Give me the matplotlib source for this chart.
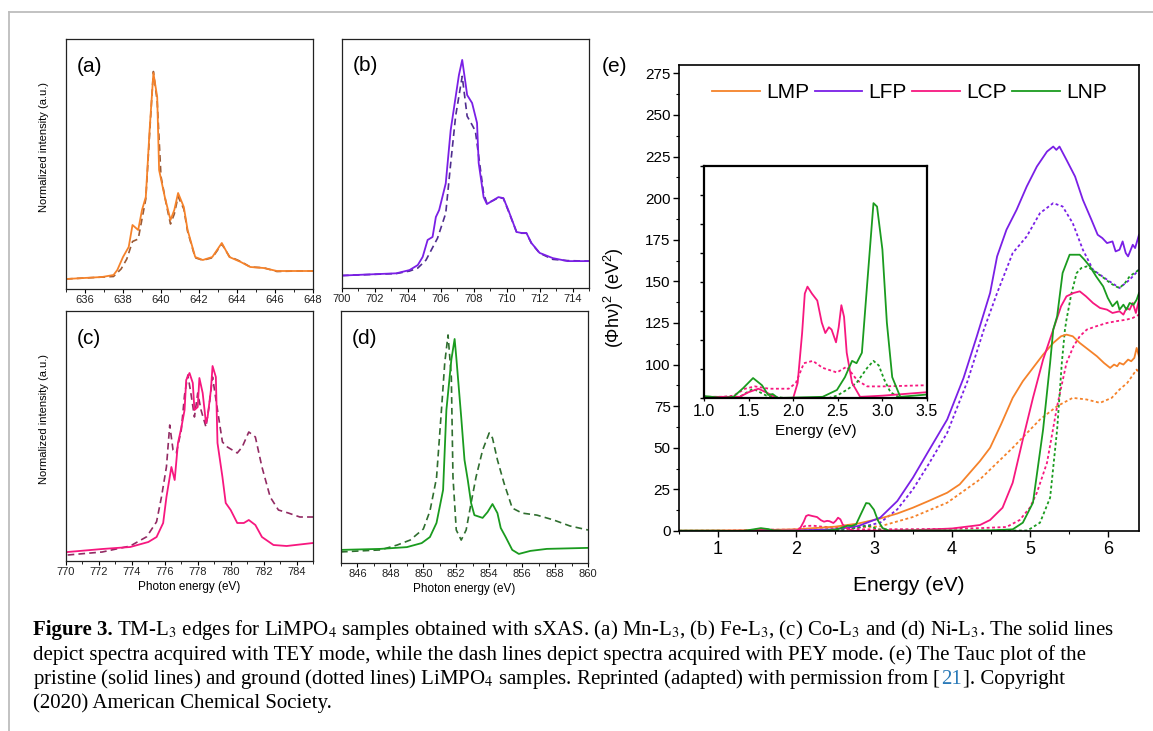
import matplotlib
matplotlib.use("Agg")
import matplotlib.pyplot as plt
from matplotlib.lines import Line2D
from matplotlib.ticker import MultipleLocator

plt.rcParams['font.family'] = ['Liberation Sans', 'DejaVu Sans']
plt.rcParams['mathtext.fontset'] = 'custom'
plt.rcParams['mathtext.rm'] = 'Liberation Sans'
plt.rcParams['mathtext.it'] = 'Liberation Sans:italic'

W, H = 1153, 731

# ---- (a)-(d): sXAS L3 edges, TEY (solid) and PEY (dashed), normalized ----
mn_tey_x = [635.0, 636.9, 637.5, 637.7, 638.0, 638.3, 638.5, 638.8, 639.0, 639.2, 639.4, 639.6, 639.8,
            639.9, 640.2, 640.5, 640.7, 640.9, 641.2, 641.4, 641.8, 642.2, 642.7, 643.2, 643.6, 644.2,
            644.7, 645.4, 646.1, 647.2, 648.0]
mn_tey_y = [0.04, 0.048, 0.056, 0.076, 0.128, 0.168, 0.256, 0.236, 0.316, 0.368, 0.636, 0.864, 0.768,
            0.476, 0.368, 0.276, 0.316, 0.384, 0.328, 0.236, 0.128, 0.116, 0.128, 0.184, 0.128, 0.108,
            0.088, 0.084, 0.072, 0.072, 0.072]
mn_pey_x = [635.0, 637.5, 637.9, 638.2, 638.5, 638.8, 639.0, 639.2, 639.4, 639.6, 639.8, 640.0, 640.3,
            640.5, 640.7, 640.9, 641.2, 641.4, 641.8, 642.2, 642.7, 643.2, 643.6, 644.2, 644.7, 645.4,
            646.1, 647.2, 648.0]
mn_pey_y = [0.04, 0.05, 0.08, 0.12, 0.19, 0.2, 0.28, 0.36, 0.62, 0.87, 0.75, 0.45, 0.33,
            0.26, 0.30, 0.37, 0.32, 0.23, 0.125, 0.115, 0.125, 0.18, 0.13, 0.11, 0.088, 0.085,
            0.07, 0.072, 0.072]

fe_tey_x = [700.0, 703.3, 704.1, 704.6, 704.9, 705.2, 705.5, 705.7, 705.9, 706.3, 706.6, 706.9, 707.1,
            707.3, 707.5, 707.6, 707.9, 708.2, 708.3, 708.6, 708.8, 709.2, 709.5, 709.8, 710.1, 710.6,
            710.9, 711.2, 711.5, 712.0, 712.8, 713.7, 715.0]
fe_tey_y = [0.05, 0.059, 0.072, 0.092, 0.125, 0.193, 0.205, 0.285, 0.313, 0.42, 0.634, 0.767, 0.855,
            0.916, 0.823, 0.775, 0.743, 0.663, 0.502, 0.365, 0.337, 0.353, 0.365, 0.361, 0.313, 0.225,
            0.221, 0.221, 0.181, 0.141, 0.12, 0.108, 0.108]
fe_pey_x = [700.0, 703.3, 704.1, 704.6, 705.1, 705.8, 706.3, 706.6, 706.9, 707.3, 707.6, 707.9, 708.1,
            708.3, 708.6, 708.8, 709.2, 709.5, 709.8, 710.1, 710.6, 710.9, 711.2, 711.5, 712.0, 712.8,
            713.7, 715.0]
fe_pey_y = [0.05, 0.058, 0.068, 0.08, 0.112, 0.2, 0.3, 0.5, 0.69, 0.85, 0.69, 0.655, 0.63,
            0.53, 0.38, 0.34, 0.352, 0.363, 0.36, 0.31, 0.225, 0.22, 0.22, 0.18, 0.14, 0.115,
            0.11, 0.108]

co_tey_x = [770.1, 772.2, 773.9, 775.0, 775.5, 775.9, 776.1, 776.4, 776.6, 776.8, 777.0, 777.2, 777.3,
            777.5, 777.7, 777.8, 778.0, 778.1, 778.3, 778.5, 778.6, 778.8, 778.9, 779.1, 779.2, 779.5,
            779.7, 780.0, 780.4, 780.8, 781.1, 781.5, 781.9, 782.6, 783.4, 785.0]
co_tey_y = [0.036, 0.048, 0.056, 0.076, 0.096, 0.152, 0.256, 0.376, 0.324, 0.472, 0.532, 0.604, 0.724,
            0.752, 0.712, 0.604, 0.616, 0.732, 0.672, 0.552, 0.576, 0.684, 0.78, 0.736, 0.472, 0.336,
            0.232, 0.204, 0.152, 0.152, 0.164, 0.144, 0.096, 0.064, 0.06, 0.072]
co_pey_x = [770.1, 772.2, 773.9, 774.9, 775.5, 775.8, 776.1, 776.3, 776.5, 776.7, 777.0, 777.2, 777.4,
            777.6, 777.8, 778.0, 778.2, 778.5, 778.7, 778.9, 779.2, 779.5, 779.8, 780.4, 780.7, 781.1,
            781.5, 781.9, 782.4, 782.9, 783.5, 784.2, 785.0]
co_pey_y = [0.024, 0.036, 0.06, 0.097, 0.157, 0.257, 0.377, 0.544, 0.444, 0.432, 0.524, 0.664, 0.744,
            0.664, 0.576, 0.672, 0.604, 0.536, 0.624, 0.736, 0.604, 0.476, 0.456, 0.432, 0.456, 0.516,
            0.496, 0.376, 0.256, 0.204, 0.192, 0.176, 0.176]

ni_tey_x = [845.0, 847.4, 849.0, 849.9, 850.4, 850.8, 851.2, 851.4, 851.7, 851.9, 852.0, 852.3, 852.5,
            852.7, 852.9, 853.1, 853.6, 853.9, 854.2, 854.5, 854.7, 855.0, 855.4, 855.8, 856.5, 857.5,
            860.0]
ni_tey_y = [0.052, 0.056, 0.063, 0.079, 0.103, 0.159, 0.29, 0.607, 0.806, 0.889, 0.817, 0.579, 0.409,
            0.329, 0.238, 0.19, 0.179, 0.202, 0.234, 0.198, 0.139, 0.103, 0.052, 0.036, 0.048, 0.056,
            0.06]
ni_pey_x = [845.0, 847.4, 848.4, 849.2, 850.0, 850.4, 850.8, 851.1, 851.3, 851.5, 851.7, 851.8, 852.0,
            852.3, 852.6, 852.9, 853.2, 853.6, 854.0, 854.2, 854.5, 854.9, 855.4, 856.0, 856.9, 857.9,
            858.9, 860.0]
ni_pey_y = [0.044, 0.052, 0.071, 0.091, 0.135, 0.206, 0.337, 0.607, 0.794, 0.905, 0.738, 0.341, 0.131,
            0.091, 0.131, 0.238, 0.341, 0.448, 0.516, 0.496, 0.409, 0.317, 0.218, 0.198, 0.19, 0.171,
            0.147, 0.131]

# ---- (e): Tauc plot, pristine (solid) and ground (dotted) ----
lmp_x = [0.5, 1.0, 1.5, 2.0, 2.5, 2.8, 3.08, 3.3, 3.5, 3.7, 3.94, 4.1, 4.23, 4.36, 4.49, 4.63, 4.78, 4.91,
         5.04, 5.17, 5.3, 5.4, 5.47, 5.55, 5.64, 5.75, 5.86, 5.95, 6.03, 6.08, 6.12, 6.15, 6.2, 6.26, 6.3,
         6.34, 6.37, 6.4]
lmp_y = [0.2, 0.3, 0.5, 1.0, 2.6, 4.5, 7.5, 10.5, 14, 18, 23, 28, 35, 42, 50, 64, 80, 90,
         98, 106, 113, 117, 118, 117, 113, 109, 105, 101, 98, 100, 99, 101, 100, 103, 102,
         104, 110, 105]
lmp_g_x = [0.5, 1.5, 2.0, 2.5, 3.08, 3.5, 3.94, 4.36, 4.78, 5.13, 5.35, 5.55, 5.73, 5.9, 6.05, 6.15,
           6.25, 6.37, 6.4]
lmp_g_y = [0.1, 0.3, 0.6, 1.3, 2.8, 8.4, 17, 31, 50, 67, 75, 80, 79, 77, 80, 85, 89, 97, 95]

lfp_x = [0.5, 1.5, 2.0, 2.5, 2.8, 3.08, 3.3, 3.5, 3.7, 3.94, 4.15, 4.32, 4.49, 4.58, 4.7, 4.83, 4.96,
         5.09, 5.22, 5.3, 5.34, 5.38, 5.47, 5.58, 5.68, 5.79, 5.87, 5.93, 5.99, 6.06, 6.1, 6.15, 6.19,
         6.23, 6.26, 6.32, 6.35, 6.4]
lfp_y = [0, 0.1, 0.3, 1.0, 3.0, 8, 18, 32, 48, 67, 92, 117, 143, 165, 181, 193, 207,
         219, 228, 231, 229, 231, 223, 213, 199, 187, 178, 176, 173, 174, 168, 169, 174,
         167, 165, 172, 170, 178]
lfp_g_x = [0.5, 2.0, 2.5, 2.8, 3.08, 3.3, 3.5, 3.7, 3.94, 4.2, 4.41, 4.58, 4.78, 4.96, 5.13, 5.3, 5.42,
           5.55, 5.68, 5.81, 5.99, 6.15, 6.28, 6.4]
lfp_g_y = [0, 0.2, 0.6, 2, 5, 13, 25, 40, 59, 90, 121, 143, 167, 177, 191, 197, 195,
           185, 169, 157, 151, 146, 151, 157]

lcp_x = [0.5, 1.0, 1.4, 1.5, 1.61, 1.72, 1.81, 2.0, 2.05, 2.1, 2.13, 2.16, 2.21, 2.27, 2.32, 2.36, 2.4,
         2.43, 2.48, 2.51, 2.54, 2.57, 2.6, 2.66, 2.75, 3.0, 3.5, 4.0, 4.36, 4.49, 4.65, 4.78, 4.91, 5.04,
         5.17, 5.3, 5.4, 5.47, 5.56, 5.64, 5.72, 5.81, 5.9, 5.99, 6.06, 6.15, 6.2, 6.24, 6.28, 6.32, 6.36,
         6.4]
lcp_y = [0.1, 0.1, 0.1, 0.5, 0.8, 0.4, 0, 0, 1.3, 5.6, 9.0, 9.6, 9.0, 8.4, 6.5, 5.6, 6.1,
         5.9, 4.8, 6.1, 8.0, 7.0, 3.9, 1.3, 0.1, 0.2, 0.5, 1.5, 3.6, 6.6, 14, 29, 55, 80,
         103, 121, 135, 141, 143, 144, 141, 137, 134, 133, 131, 132, 130, 134, 133, 137, 131,
         139]
lcp_g_x = [0.5, 1.0, 1.1, 1.33, 1.46, 1.57, 1.73, 1.95, 2.03, 2.12, 2.22, 2.33, 2.49, 2.6, 2.72, 2.83,
           3.0, 3.5, 4.0, 4.4, 4.7, 4.87, 5.0, 5.09, 5.22, 5.35, 5.47, 5.56, 5.64, 5.73, 5.85, 5.99, 6.1,
           6.24, 6.32, 6.4]
lcp_g_y = [0.1, 0.1, 0, 0.2, 0.8, 1.0, 0.8, 0.8, 1.3, 3.0, 3.2, 2.6, 2.2, 2.7, 1.5, 1.0,
           1.0, 1.1, 1.3, 1.8, 2.4, 6.6, 14, 23, 41, 75, 101, 111, 117, 121, 123, 125, 126,
           127, 128, 130]

lnp_x = [0.5, 1.0, 1.21, 1.33, 1.44, 1.55, 1.65, 1.72, 1.77, 1.83, 2.33, 2.49, 2.58, 2.66, 2.71, 2.77,
         2.83, 2.9, 2.94, 3.0, 3.05, 3.11, 3.2, 3.5, 4.0, 4.5, 4.78, 4.91, 5.04, 5.17, 5.26, 5.3, 5.35,
         5.42, 5.51, 5.58, 5.64, 5.7, 5.77, 5.85, 5.94, 6.0, 6.06, 6.12, 6.15, 6.2, 6.24, 6.28, 6.33,
         6.37, 6.4]
lnp_y = [0.2, 0.17, 0, 0.1, 0.86, 1.72, 1.1, 0.26, 0.34, 0, 0.1, 0.69, 1.8, 3.2, 3.0, 3.9,
         9.9, 16.8, 16.5, 12.8, 6.5, 1.8, 0.1, 0.3, 0.3, 0.4, 1, 5, 17, 61, 101, 121, 129,
         155, 166, 166, 166, 163, 159, 153, 147, 140, 135, 138, 133, 136, 133, 137, 136,
         139, 143]
lnp_g_x = [0.5, 1.0, 1.4, 1.55, 1.7, 1.9, 2.4, 2.49, 2.6, 2.71, 2.83, 2.9, 2.96, 3.02, 3.09, 3.2, 3.5,
           4.0, 4.5, 4.97, 5.13, 5.26, 5.35, 5.41, 5.45, 5.47, 5.53, 5.6, 5.66, 5.73, 5.8, 5.86, 5.95,
           6.03, 6.1, 6.15, 6.22, 6.28, 6.34, 6.4]
lnp_g_y = [0.1, 0.1, 0.1, 0.8, 0.2, 0, 0, 0.2, 0.7, 1.3, 2.6, 3.2, 2.8, 1.6, 0.5, 0, 0,
           0.1, 0.2, 0.3, 5, 20, 61, 101, 121, 127, 142, 155, 158, 159, 157, 155, 152,
           149, 147, 146, 149, 153, 155, 157]

c_mn, c_fe, c_co, c_ni = '#f5822a', '#7a1fe6', '#f7177f', '#1a9b1f'
dash_cols = ['#9a5a35', '#4f2d8f', '#922a63', '#2f6e2f']


def rect(x0, y0, x1, y1):
    return [x0 / W, 1 - y1 / H, (x1 - x0) / W, (y1 - y0) / H]


fig = plt.figure(figsize=(W / 100, H / 100), dpi=100)

# light gray frame of the page
fig.add_artist(Line2D([9 / W, 9 / W], [0, 1 - 12 / H], transform=fig.transFigure, color='#bdbdbd', lw=1.3))
fig.add_artist(Line2D([9 / W, 1], [1 - 12 / H, 1 - 12 / H], transform=fig.transFigure, color='#bdbdbd', lw=1.3))

panels = [
    ((66, 39, 313, 289), (635, 648), mn_tey_x, mn_tey_y, mn_pey_x, mn_pey_y, c_mn, '(a)', (636, 648)),
    ((342, 39, 589, 288), (700, 715), fe_tey_x, fe_tey_y, fe_pey_x, fe_pey_y, c_fe, '(b)', (700, 714)),
    ((66, 311, 313, 561), (770, 785), co_tey_x, co_tey_y, co_pey_x, co_pey_y, c_co, '(c)', (770, 784)),
    ((341, 311, 588, 563), (845, 860), ni_tey_x, ni_tey_y, ni_pey_x, ni_pey_y, c_ni, '(d)', (846, 860)),
]
for i, (box, xl, tx, ty, px, py, col, lab, tk) in enumerate(panels):
    ax = fig.add_axes(rect(*box))
    ax.plot(px, py, color=dash_cols[i], lw=1.2, ls=(0, (4, 2.5)))
    ax.plot(tx, ty, color=col, lw=1.3)
    ax.set_xlim(*xl)
    ax.set_ylim(0, 1)
    ax.set_yticks([])
    ax.set_xticks(range(tk[0], tk[1] + 1, 2))
    ax.xaxis.set_minor_locator(MultipleLocator(1))
    ax.tick_params(axis='x', which='major', direction='out', length=3, width=0.8, labelsize=8,
                   pad=1.5, labelcolor='#222222')
    ax.tick_params(axis='x', which='minor', direction='out', length=2, width=0.6)
    for s in ax.spines.values():
        s.set_linewidth(0.9)
        s.set_color('#222222')
    ax.text(0.045, 0.93, lab, transform=ax.transAxes, fontsize=15, va='top', ha='left')
    if i in (0, 2):
        ax.set_ylabel('Normalized intensity (a.u.)', fontsize=8)
        ax.yaxis.set_label_coords(-0.07, 0.57)
    if i in (2, 3):
        ax.set_xlabel('Photon energy (eV)', fontsize=8.5, labelpad=3)

# ---- main Tauc panel ----
axe = fig.add_axes(rect(679, 65, 1139, 531))
dot = (0, (1.6, 1.4))
series = [('LMP', c_mn, lmp_x, lmp_y, lmp_g_x, lmp_g_y),
          ('LFP', c_fe, lfp_x, lfp_y, lfp_g_x, lfp_g_y),
          ('LCP', c_co, lcp_x, lcp_y, lcp_g_x, lcp_g_y),
          ('LNP', c_ni, lnp_x, lnp_y, lnp_g_x, lnp_g_y)]
for name, col, x, y, gx, gy in series:
    axe.plot(gx, gy, color=col, lw=1.3, ls=dot)
for name, col, x, y, gx, gy in series:
    axe.plot(x, y, color=col, lw=1.3, label=name)
axe.set_xlim(0.5, 6.4)
axe.set_ylim(0, 280)
axe.set_xticks([1, 2, 3, 4, 5, 6])
axe.set_yticks(range(0, 276, 25))
axe.xaxis.set_minor_locator(MultipleLocator(0.5))
axe.yaxis.set_minor_locator(MultipleLocator(12.5))
axe.tick_params(axis='x', which='major', direction='out', length=4, width=1.0, labelsize=13, pad=3)
axe.tick_params(axis='y', which='major', direction='out', length=4, width=1.0, labelsize=11, pad=2)
axe.tick_params(which='minor', direction='out', length=2.5, width=0.8)
for s in axe.spines.values():
    s.set_linewidth(1.2)
axe.set_xlabel('Energy (eV)', fontsize=15, labelpad=13)
axe.set_ylabel('(Φhν)$^2$ (eV$^2$)', fontsize=13)
axe.yaxis.set_label_coords(-0.115, 0.5)
axe.legend(loc='center left', bbox_to_anchor=((712 - 679) / 460, (531 - 93) / 466), ncol=4,
           frameon=False, fontsize=15, handlelength=2.3, handletextpad=0.3, columnspacing=0.25,
           borderpad=0, borderaxespad=0)
fig.text(602 / W, 1 - 67 / H, '(e)', fontsize=15, ha='left', va='center')

# ---- inset ----
axi = fig.add_axes(rect(704, 166, 927, 398))
axi.set_facecolor('white')
for name, col, x, y, gx, gy in series[2:]:
    axi.plot(gx, gy, color=col, lw=1.3, ls=dot)
for name, col, x, y, gx, gy in series[2:]:
    axi.plot(x, y, color=col, lw=1.3)
axi.set_xlim(1.0, 3.5)
axi.set_ylim(0, 20)
axi.set_xticks([1.0, 1.5, 2.0, 2.5, 3.0, 3.5])
axi.set_xticklabels(['1.0', '1.5', '2.0', '2.5', '3.0', '3.5'])
axi.set_yticks([2.5 * k for k in range(9)])
axi.set_yticklabels([])
axi.tick_params(axis='x', direction='out', length=2, width=0.9, labelsize=11.5, pad=2)
axi.tick_params(axis='y', direction='out', length=3, width=1.0)
for s in axi.spines.values():
    s.set_linewidth(1.6)
axi.set_xlabel('Energy (eV)', fontsize=11, labelpad=4)

# ---- caption ----
renderer = fig.canvas.get_renderer()
cap = dict(fontsize=15, family='Liberation Serif', math_fontfamily='stix')


def put(x_px, base_px, s, **kw):
    t = fig.text(x_px / W, 1 - base_px / H, s, va='baseline', ha='left', **cap, **kw)
    return t.get_window_extent(renderer).x1


x0 = 33
xe = put(x0, 635, 'Figure 3.', weight='bold')
put(xe + 4, 635, 'TM-L$_3$ edges for LiMPO$_4$ samples obtained with sXAS. (a) Mn-L$_3$, (b) Fe-L$_3$, '
                  '(c) Co-L$_3$ and (d) Ni-L$_3$. The solid lines')
put(x0, 660, 'depict spectra acquired with TEY mode, while the dash lines depict spectra acquired with '
             'PEY mode. (e) The Tauc plot of the')
xe = put(x0, 684, 'pristine (solid lines) and ground (dotted lines) LiMPO$_4$ samples. Reprinted (adapted) '
                  'with permission from [')
xe = put(xe + 0.5, 684, '21', color='#2a7ab8')
put(xe + 0.5, 684, ']. Copyright')
put(x0, 708, '(2020) American Chemical Society.')

fig.savefig('out.png', dpi=100)
